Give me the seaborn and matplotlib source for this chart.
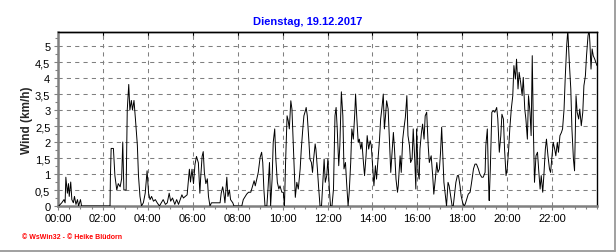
import numpy as np
import pandas as pd
import matplotlib
matplotlib.use("Agg")
import matplotlib.pyplot as plt
import seaborn as sns
from matplotlib.ticker import MultipleLocator
from matplotlib.lines import Line2D

title = "Dienstag, 19.12.2017"
ylabel = "Wind (km/h)"
credit = "© WsWin32 - © Heike Blüdorn"
x_tick_hours = [0, 2, 4, 6, 8, 10, 12, 14, 16, 18, 20, 22]
x_ticklabels = ["00:00", "02:00", "04:00", "06:00", "08:00", "10:00",
                "12:00", "14:00", "16:00", "18:00", "20:00", "22:00"]
y_ticks = [0, 0.5, 1, 1.5, 2, 2.5, 3, 3.5, 4, 4.5, 5]
y_ticklabels = ["0", "0,5", "1", "1,5", "2", "2,5", "3", "3,5", "4", "4,5", "5"]

# time of day in minutes, wind speed in km/h
minutes = [
    2, 10, 16, 19, 21, 25, 28, 30, 34, 37, 41, 44, 48, 52, 55, 60, 63, 139, 140, 142,
    148, 152, 157, 161, 166, 170, 173, 176, 182, 185, 189, 192, 196, 199, 203, 207, 212, 215, 219, 223,
    228, 233, 238, 242, 246, 250, 255, 260, 265, 271, 276, 281, 287, 292, 297, 301, 306, 312, 317, 322,
    328, 331, 335, 340, 345, 351, 354, 358, 362, 366, 370, 375, 379, 381, 385, 388, 391, 395, 399, 402,
    406, 410, 424, 433, 436, 440, 443, 446, 451, 454, 458, 461, 467, 470, 491, 495, 504, 509,
    515, 520, 524, 527, 531, 535, 540, 544, 547, 550, 553, 558, 561, 565, 568, 572, 575, 579, 582, 586,
    590, 593, 598, 602, 605, 608, 612, 615, 618, 622, 625, 627, 631, 634, 638, 642, 647, 650, 654, 657,
    661, 663, 666, 670, 673, 677, 680, 682, 687, 689, 693, 696, 700, 704, 707, 711, 714, 718, 721, 725,
    728, 732, 736, 740, 743, 746, 750, 753, 757, 761, 764, 768, 771, 775, 778, 782, 785, 789, 793, 795,
    798, 802, 805, 809, 812, 816, 819, 823, 826, 830, 834, 837, 841, 844, 848, 851, 855, 859, 862, 866,
    869, 872, 875, 878, 882, 885, 889, 892, 896, 899, 903, 907, 909, 914, 917, 921, 924, 928, 932, 935,
    939, 942, 946, 949, 953, 956, 958, 962, 965, 967, 971, 974, 978, 981, 985, 989, 992,
    997, 1001, 1004, 1008, 1012, 1015, 1019, 1022, 1025, 1028, 1031, 1035, 1038, 1042, 1045, 1049, 1053, 1056, 1060, 1063,
    1067, 1070, 1074, 1077, 1081, 1085, 1088, 1092, 1096, 1101, 1105, 1110, 1114, 1118, 1123, 1127, 1132, 1136, 1141, 1143,
    1147, 1151, 1152, 1155, 1159, 1163, 1167, 1172, 1175, 1179, 1183, 1186, 1190, 1193, 1197, 1200, 1204, 1207, 1211, 1215,
    1218, 1222, 1225, 1229, 1232, 1236, 1240, 1243, 1247, 1250, 1254, 1257, 1261, 1264, 1267, 1270, 1273, 1277, 1281, 1284,
    1288, 1291, 1295, 1298, 1302, 1305, 1309, 1313, 1316, 1320, 1323, 1327, 1330, 1334, 1337, 1341, 1345, 1348, 1352, 1355,
    1359, 1362, 1366, 1370, 1373, 1377, 1380, 1384, 1387, 1391, 1394, 1398, 1402, 1405, 1409, 1412, 1416, 1419, 1421, 1424,
    1427, 1430, 1434, 1437, 1440,
]
wind = [
    0, 0.1, 0.2, 0.1, 0.9, 0.4, 0.7, 0.3, 0.75, 0.2, 0.1, 0.3, 0.05, 0.2, 0, 0.2, 0, 0, 0.9, 1.8,
    1.8, 0.95, 0.5, 0.7, 0.6, 0.85, 2.0, 0.5, 0.5, 3.0, 3.8, 3.0, 3.3, 3.0, 3.3, 2.7, 1.9, 0.95, 0.3, 0,
    0.1, 0.4, 1.1, 0.4, 0.2, 0.3, 0.15, 0.2, 0.1, 0, 0.1, 0.2, 0.05, 0.1, 0.4, 0.15, 0.25, 0.05, 0.2, 0.05,
    0.25, 0.35, 0.25, 0.3, 0.35, 1.15, 0.75, 1.15, 0.7, 1.3, 1.55, 1.35, 0.4, 0.85, 1.55, 1.7, 1.05, 0.7, 0.85, 0.3,
    0, 0.1, 0.1, 0.1, 0.4, 0.6, 0.4, 0.1, 0.9, 0.3, 0.5, 0.2, 0.1, 0, 0, 0.2, 0.37, 0.43,
    0.43, 0.63, 0.79, 0.63, 0.84, 1.05, 1.52, 1.68, 1.36, 0.53, 0, 0, 0.53, 1.36, 0, 0.84, 1.99, 2.41, 1.47, 0.74,
    0.53, 0.63, 0.43, 0.43, 0, 1.36, 2.82, 2.67, 2.41, 3.29, 3.03, 2.41, 1.16, 0.27, 0.74, 0.53, 1.16, 1.78, 2.41, 2.82,
    2.98, 3.08, 2.82, 2.09, 1.47, 1.36, 1.05, 1.36, 1.94, 1.78, 1.16, 0.63, 0, 0, 0.63, 1.47, 0.74, 0.95, 1.47, 0.53,
    0, 0, 0.53, 2.82, 3.08, 2.41, 1.26, 1.89, 3.57, 2.82, 1.16, 1.36, 0.74, 0, 0.43, 1.36, 2.41, 2.09, 2.93, 3.50,
    2.82, 1.99, 2.09, 1.78, 1.99, 1.36, 0.95, 1.57, 2.20, 1.78, 2.04, 1.89, 1.16, 0.63, 1.26, 0.84, 1.47, 2.09, 2.72, 3.13,
    3.50, 2.41, 2.82, 3.29, 3.03, 2.20, 1.05, 1.57, 2.30, 1.78, 0.84, 0.43, 0.63, 1.57, 1.05, 2.09, 2.41, 2.77, 3.45, 2.20,
    1.89, 1.36, 1.47, 2.41, 1.47, 0.53, 2.41, 1.05, 0.84, 1.78, 2.30, 2.56, 2.09, 2.82, 2.93, 1.89, 1.36,
    1.57, 0.95, 0.37, 0.84, 1.36, 1.05, 1.16, 1.68, 2.46, 1.57, 0.74, 0.32, 0, 0.74, 0.63, 0.32, 0, 0, 0.43, 0.74,
    0.95, 0.95, 0.63, 0.32, 0.11, 0, 0.06, 0.22, 0.37, 0.43, 0.74, 1.16, 1.31, 1.31, 1.16, 1.00, 0.90, 0.90, 1.05, 1.89,
    2.41, 0.43, 0.17, 1.16, 2.93, 2.98, 2.93, 3.08, 2.72, 1.68, 2.20, 2.87, 2.72, 1.78, 0.95, 1.16, 1.78, 2.41, 3.03, 3.45,
    4.39, 3.97, 4.59, 3.66, 4.18, 3.86, 3.45, 4.02, 3.03, 2.72, 2.09, 3.45, 2.93, 2.20, 4.70, 2.41, 0.74, 1.57, 1.68, 1.16,
    0.53, 0.95, 0.43, 0.95, 1.78, 2.09, 1.57, 1.16, 1.05, 1.57, 1.99, 1.78, 1.57, 1.99, 1.68, 2.20, 2.30, 2.41, 3.03, 3.97,
    5.01, 5.5, 4.49, 3.66, 2.41, 1.47, 1.10, 3.45, 2.93, 2.72, 3.03, 2.51, 2.93, 3.76, 4.07, 4.70, 5.32, 5.5, 5.11, 4.28,
    4.91, 4.70, 4.59, 4.49, 4.39,
]

sns.set_theme(style="white")
plt.rcParams['font.family'] = ['Liberation Sans', 'DejaVu Sans']

W, H = 616, 253
fig = plt.figure(figsize=(W / 100, H / 100), dpi=100)
fig.patch.set_facecolor("white")
ax = fig.add_axes([58 / W, 1 - 207 / H, (597 - 58) / W, (207 - 33) / H])
ax.set_facecolor("white")

df = pd.DataFrame({"hour": np.array(minutes) / 60.0, "wind": wind})
sns.lineplot(data=df, x="hour", y="wind", ax=ax, color="black",
             linewidth=0.7, estimator=None, sort=False, zorder=3)

ax.set_xlim(0, 24)
ax.set_ylim(0, 5.44)
ax.set_xticks(x_tick_hours)
ax.set_xticklabels(x_ticklabels)
ax.xaxis.set_minor_locator(MultipleLocator(0.5))
ax.set_yticks(y_ticks)
ax.set_yticklabels(y_ticklabels)
ax.yaxis.set_minor_locator(MultipleLocator(0.25))

ax.grid(True, which="major", color="#808080", linestyle=(0, (4, 4)), linewidth=0.75)
ax.set_axisbelow(True)

for s in ("left", "bottom"):
    ax.spines[s].set_color("#808080")
    ax.spines[s].set_linewidth(1.8)
for s in ("top", "right"):
    ax.spines[s].set_color("black")
    ax.spines[s].set_linewidth(1.0)

ax.tick_params(axis="both", which="both", direction="out", color="#808080",
               labelcolor="black", labelsize=8, left=True, bottom=True)
ax.tick_params(axis="both", which="major", length=3, width=0.8)
ax.tick_params(axis="both", which="minor", length=2.5, width=0.8)
ax.tick_params(axis="x", which="major", pad=2)
ax.tick_params(axis="y", which="major", pad=2.5)

ax.set_xlabel("")
ax.set_ylabel(ylabel, fontsize=8.5, fontweight="bold", va="center")
ax.yaxis.set_label_coords((27 - 58) / (597 - 58), 0.5)

sec = ax.secondary_xaxis("top")
sec.set_xticks(list(range(2, 24, 2)))
sec.tick_params(direction="in", length=3, width=0.8, color="black", labeltop=False)
sec.spines["top"].set_linewidth(1.0)
sec.spines["top"].set_color("black")

fig.text(0.5, 1 - 22 / H, title, ha="center", va="center", color="#0000FF",
         fontsize=8, fontweight="bold")
fig.text(22 / W, 1 - 238 / H, credit, ha="left", va="center", color="#FF0000",
         fontsize=5, fontweight="bold")

fig.add_artist(Line2D([0, 615 / W], [1 - 251.5 / H] * 2, transform=fig.transFigure,
                      color="#A0A0A0", linewidth=1.4))
fig.add_artist(Line2D([614.5 / W] * 2, [1 - 251.5 / H, 1], transform=fig.transFigure,
                      color="#A0A0A0", linewidth=1.4))

fig.savefig("out.png", dpi=100, facecolor="white")
